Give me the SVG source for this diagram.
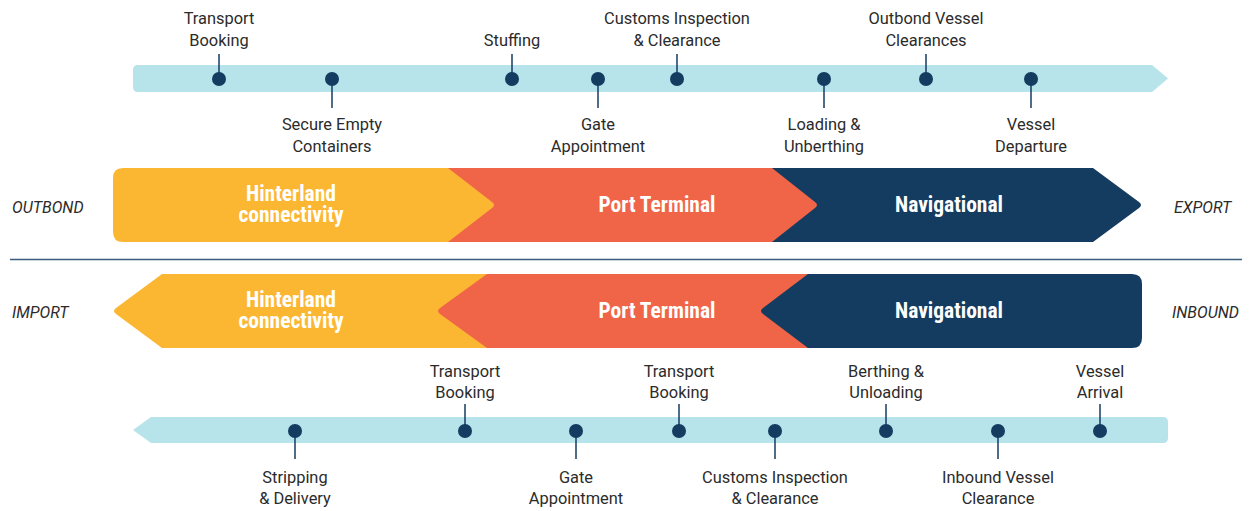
<svg xmlns="http://www.w3.org/2000/svg" width="1256" height="511" viewBox="0 0 1256 511">
<style>
.lbl{font-family:Roboto,"Liberation Sans",sans-serif;font-size:16.4px;fill:#2b2b2b;text-anchor:middle}
.side{font-family:Roboto,"Liberation Sans",sans-serif;font-size:16px;font-style:italic;fill:#2b2b2b}
.ch{font-family:Roboto,"Liberation Sans",sans-serif;font-size:21.5px;font-weight:bold;fill:#ffffff;text-anchor:middle;font-stretch:condensed}
.dot{fill:#143b60}
.stem{stroke:#143b60;stroke-width:1.5}
.bar{fill:#b7e3ea}
.yel{fill:#fcb732}
.org{fill:#f06548}
.nav{fill:#143b60}
</style>
<rect width="1256" height="511" fill="#ffffff"/>

<!-- timelines -->
<g id="top-timeline">
<path class="bar" d="M138,65 H1152 L1168,78.5 L1152,92 H138 Q133,92 133,87 V70 Q133,65 138,65 Z"/>
</g>
<g id="bottom-timeline">
<path class="bar" d="M151,417 H1163 Q1168,417 1168,422 V438 Q1168,443 1163,443 H151 L133,430 Z"/>
</g>

<!-- top chevrons (outbound) -->
<g id="out-navigational">
<path class="nav" d="M772,168 H1093 L1139,202 Q1143,205 1139,208 L1093,242 H772 Z"/>
<text class="ch" x="949" y="212">Navigational</text>
</g>
<g id="out-port">
<path class="org" d="M448,168 H772 L815,202 Q819,205 815,208 L772,242 H448 Z"/>
<text class="ch" x="657" y="212">Port Terminal</text>
</g>
<g id="out-hinterland">
<path class="yel" d="M123,168 H448 L492,202 Q496,205 492,208 L448,242 H123 Q113,242 113,232 V178 Q113,168 123,168 Z"/>
<text class="ch" x="291" y="201">Hinterland<tspan x="291" y="222">connectivity</tspan></text>
</g>

<!-- bottom chevrons (inbound) -->
<g id="in-hinterland">
<path class="yel" d="M162,274 H490 V348 H162 L116,314 Q112,311 116,308 Z"/>
<text class="ch" x="291" y="307">Hinterland<tspan x="291" y="328">connectivity</tspan></text>
</g>
<g id="in-port">
<path class="org" d="M487,274 H810 V348 H487 L440,314 Q436,311 440,308 Z"/>
<text class="ch" x="657" y="318">Port Terminal</text>
</g>
<g id="in-navigational">
<path class="nav" d="M808,274 H1132 Q1142,274 1142,284 V338 Q1142,348 1132,348 H808 L763,314 Q759,311 763,308 Z"/>
<text class="ch" x="949" y="318">Navigational</text>
</g>

<!-- separator and side labels -->
<g id="separator">
<line x1="10" y1="259.5" x2="1242" y2="259.5" stroke="#3a5c7e" stroke-width="1.5"/>
</g>
<g id="side-labels">
<text class="side" x="12" y="213">OUTBOND</text>
<text class="side" x="1174" y="213">EXPORT</text>
<text class="side" x="12" y="318">IMPORT</text>
<text class="side" x="1172" y="318">INBOUND</text>
</g>

<!-- connectors (stems) -->
<g id="connectors">
<line class="stem" x1="219" y1="54" x2="219" y2="79"/>
<line class="stem" x1="332" y1="79" x2="332" y2="108"/>
<line class="stem" x1="512" y1="54" x2="512" y2="79"/>
<line class="stem" x1="598" y1="79" x2="598" y2="108"/>
<line class="stem" x1="677" y1="54" x2="677" y2="79"/>
<line class="stem" x1="824" y1="79" x2="824" y2="108"/>
<line class="stem" x1="926" y1="54" x2="926" y2="79"/>
<line class="stem" x1="1031" y1="79" x2="1031" y2="108"/>
<line class="stem" x1="295" y1="431" x2="295" y2="459"/>
<line class="stem" x1="465" y1="404" x2="465" y2="431"/>
<line class="stem" x1="576" y1="431" x2="576" y2="459"/>
<line class="stem" x1="679" y1="404" x2="679" y2="431"/>
<line class="stem" x1="775" y1="431" x2="775" y2="459"/>
<line class="stem" x1="886" y1="404" x2="886" y2="431"/>
<line class="stem" x1="998" y1="431" x2="998" y2="459"/>
<line class="stem" x1="1100" y1="404" x2="1100" y2="431"/>
</g>

<!-- top milestones -->
<g id="m-transport-booking-out">
<circle class="dot" cx="219" cy="79" r="7"/>
<text class="lbl" x="219" y="24">Transport</text>
<text class="lbl" x="219" y="45.5">Booking</text>
</g>
<g id="m-secure-empty">
<circle class="dot" cx="332" cy="79" r="7"/>
<text class="lbl" x="332" y="130">Secure Empty</text>
<text class="lbl" x="332" y="151.5">Containers</text>
</g>
<g id="m-stuffing">
<circle class="dot" cx="512" cy="79" r="7"/>
<text class="lbl" x="512" y="45.5">Stuffing</text>
</g>
<g id="m-gate-out">
<circle class="dot" cx="598" cy="79" r="7"/>
<text class="lbl" x="598" y="130">Gate</text>
<text class="lbl" x="598" y="151.5">Appointment</text>
</g>
<g id="m-customs-out">
<circle class="dot" cx="677" cy="79" r="7"/>
<text class="lbl" x="677" y="24">Customs Inspection</text>
<text class="lbl" x="677" y="45.5">&amp; Clearance</text>
</g>
<g id="m-loading">
<circle class="dot" cx="824" cy="79" r="7"/>
<text class="lbl" x="824" y="130">Loading &amp;</text>
<text class="lbl" x="824" y="151.5">Unberthing</text>
</g>
<g id="m-outbond-clearances">
<circle class="dot" cx="926" cy="79" r="7"/>
<text class="lbl" x="926" y="24">Outbond Vessel</text>
<text class="lbl" x="926" y="45.5">Clearances</text>
</g>
<g id="m-departure">
<circle class="dot" cx="1031" cy="79" r="7"/>
<text class="lbl" x="1031" y="130">Vessel</text>
<text class="lbl" x="1031" y="151.5">Departure</text>
</g>

<!-- bottom milestones -->
<g id="m-stripping">
<circle class="dot" cx="295" cy="431" r="7"/>
<text class="lbl" x="295" y="482.5">Stripping</text>
<text class="lbl" x="295" y="504">&amp; Delivery</text>
</g>
<g id="m-transport-booking-in1">
<circle class="dot" cx="465" cy="431" r="7"/>
<text class="lbl" x="465" y="376.5">Transport</text>
<text class="lbl" x="465" y="398">Booking</text>
</g>
<g id="m-gate-in">
<circle class="dot" cx="576" cy="431" r="7"/>
<text class="lbl" x="576" y="482.5">Gate</text>
<text class="lbl" x="576" y="504">Appointment</text>
</g>
<g id="m-transport-booking-in2">
<circle class="dot" cx="679" cy="431" r="7"/>
<text class="lbl" x="679" y="376.5">Transport</text>
<text class="lbl" x="679" y="398">Booking</text>
</g>
<g id="m-customs-in">
<circle class="dot" cx="775" cy="431" r="7"/>
<text class="lbl" x="775" y="482.5">Customs Inspection</text>
<text class="lbl" x="775" y="504">&amp; Clearance</text>
</g>
<g id="m-berthing">
<circle class="dot" cx="886" cy="431" r="7"/>
<text class="lbl" x="886" y="376.5">Berthing &amp;</text>
<text class="lbl" x="886" y="398">Unloading</text>
</g>
<g id="m-inbound-clearance">
<circle class="dot" cx="998" cy="431" r="7"/>
<text class="lbl" x="998" y="482.5">Inbound Vessel</text>
<text class="lbl" x="998" y="504">Clearance</text>
</g>
<g id="m-arrival">
<circle class="dot" cx="1100" cy="431" r="7"/>
<text class="lbl" x="1100" y="376.5">Vessel</text>
<text class="lbl" x="1100" y="398">Arrival</text>
</g>
</svg>
